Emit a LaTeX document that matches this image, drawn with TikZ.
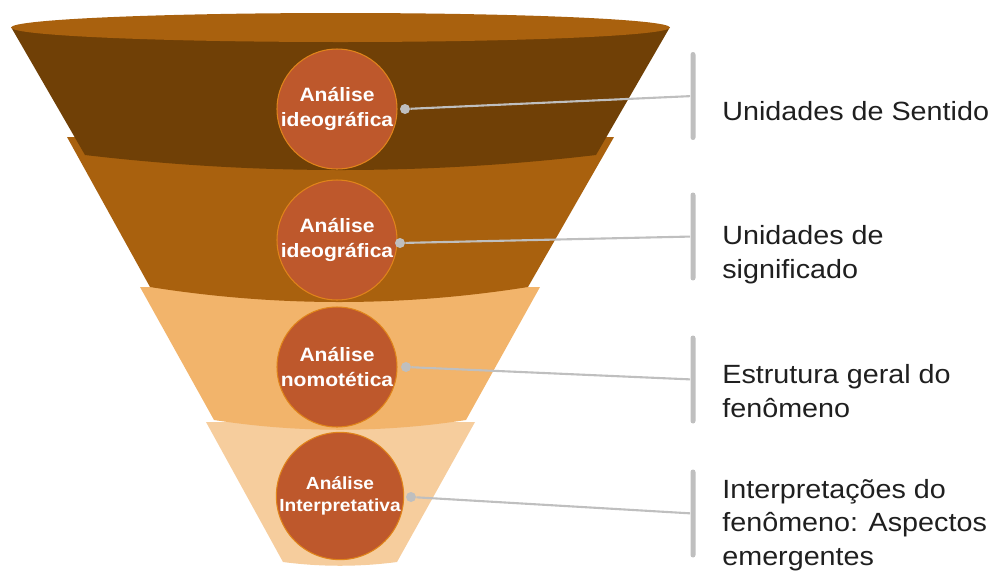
\documentclass[tikz,border=0pt]{standalone}
\usepackage{fontspec}
\setmainfont[FakeStretch=1.09]{Liberation Sans}
\usetikzlibrary{positioning}
\definecolor{rimbrown}{HTML}{A9610E}
\definecolor{darkbrown}{HTML}{704006}
\definecolor{midbrown}{HTML}{A9610E}
\definecolor{lightorange}{HTML}{F2B46B}
\definecolor{paleorange}{HTML}{F6CD9D}
\definecolor{circfill}{HTML}{BE582C}
\definecolor{circedge}{HTML}{E0841A}
\definecolor{linkgray}{HTML}{BFBFBF}
\begin{document}
\begin{tikzpicture}[x=0.02cm,y=-0.02cm,
  stage/.style={circle,draw=circedge,line width=0.6pt,fill=circfill,text=white,align=center,inner sep=0pt,
    minimum size=2.4cm,font=\bfseries\fontsize{11}{14}\selectfont},
  dot/.style={circle,fill=linkgray,minimum size=0.2cm,inner sep=0pt},
  bar/.style={rectangle,fill=linkgray,minimum width=0.1cm,minimum height=1.76cm,inner sep=0pt,rounded corners=0.05cm},
  link/.style={draw=linkgray,line width=1.2pt},
  outtext/.style={anchor=base west,align=left,inner sep=0pt,text=black!88,font=\fontsize{15}{19}\selectfont}]
  \useasboundingbox (0,0) rectangle (992,576);
  % funnel, bottom layer first
  \fill[paleorange] (206,422) -- (283,562) .. controls (321,567) and (359,567) .. (397,562) -- (475,422) -- cycle;
  \fill[lightorange] (140,287) -- (214,420) .. controls (298,433) and (382,433) .. (466,420) -- (540,287) -- cycle;
  \fill[midbrown] (67,137) -- (150,287) .. controls (276,307) and (402,307) .. (528,287) -- (614,137) -- cycle;
  \fill[darkbrown] (11,27) -- (85,155) .. controls (255,175) and (426,175) .. (596,155) -- (670,27) -- cycle;
  \fill[rimbrown] (340.5,27.5) ellipse [x radius=6.59cm, y radius=0.29cm];
  % stages
  \node[stage] (c1) at (337,109) {Análise\\ideográfica};
  \node[stage] (c2) at (337,240) {Análise\\ideográfica};
  \node[stage] (c3) at (337,367) {Análise\\nomotética};
  \node[stage,minimum size=2.52cm,font=\bfseries\fontsize{10}{12.5}\selectfont] (c4) at (340,496) {Análise\\Interpretativa};
  \node[dot] (d1) at (405,109) {};
  \node[dot] (d2) at (400,243) {};
  \node[dot] (d3) at (406,367) {};
  \node[dot] (d4) at (411,497) {};
  \node[bar] (b1) at (693,96) {};
  \node[bar] (b2) at (693,236.5) {};
  \node[bar] (b3) at (693,379.5) {};
  \node[bar] (b4) at (693,513.5) {};
  \draw[link] (d1) -- (b1); \draw[link] (d2) -- (b2);
  \draw[link] (d3) -- (b3); \draw[link] (d4) -- (b4);
  % outputs (base = last line)
  \node[outtext] (t1) at (722,120) {Unidades de Sentido};
  \node[outtext] (t2) at (722,278) {Unidades de\\significado};
  \node[outtext] (t3) at (722,417) {Estrutura geral do\\fenômeno};
  \node[outtext] (t4) at (722,565) {Interpretações do\\fenômeno: Aspectos\\emergentes};
\end{tikzpicture}
\end{document}
